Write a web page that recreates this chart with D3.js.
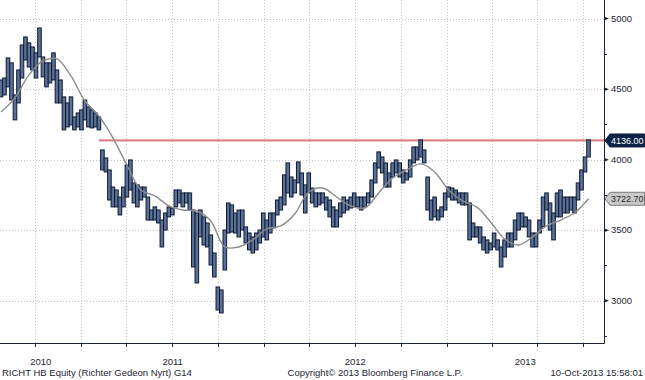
<!DOCTYPE html>
<html><head><meta charset="utf-8">
<script src="https://cdn.jsdelivr.net/npm/d3@7"></script>
<style>body{margin:0;background:#fff}svg{display:block}text{font-family:"Liberation Sans",Arial,sans-serif}</style>
</head><body>
<svg id="c" width="645" height="380"></svg>
<script>
// ---- data ----
const firstWeek = "2010-07-24";          // week of first bar
const weeklyHigh = [4565,4579,4721,4686,4459,4636,4813,4870,4828,4799,
4757,4934,4728,4686,4686,4757,4636,4565,4445,4402,
4445,4303,4331,4353,4423,4374,4353,4331,4303,4069,
4012,3927,3806,3785,3735,3806,3962,3998,3835,3821,
3806,3806,3735,3643,3665,3643,3572,3622,3665,3657,
3785,3785,3764,3764,3764,3643,3622,3643,3594,3551,
3466,3338,3097,3076,3501,3693,3679,3622,3643,3643,
3523,3480,3452,3480,3501,3622,3572,3622,3622,3714,
3735,3892,3977,3877,3856,3984,3906,3821,3906,3799,
3764,3764,3764,3735,3714,3665,3643,3693,3735,3714,
3735,3764,3735,3735,3735,3764,3856,3977,4055,4019,
3977,3906,3977,3998,3977,3927,3906,3998,4090,4090,
4140,4069,3877,3714,3735,3643,3665,3764,3806,3799,
3785,3764,3764,3764,3693,3551,3523,3523,3452,3431,
3409,3480,3431,3381,3431,3480,3480,3572,3622,3622,
3594,3572,3480,3480,3572,3735,3764,3693,3622,3764,
3785,3735,3735,3735,3735,3835,3927,4019,4140];
const weeklyLow = [4445,4459,4516,4423,4282,4402,4579,4707,4657,4636,
4579,4728,4587,4516,4544,4565,4402,4402,4211,4232,
4246,4211,4232,4211,4282,4232,4225,4232,4211,3927,
3913,3714,3665,3665,3608,3665,3735,3785,3693,3665,
3714,3735,3572,3572,3572,3551,3381,3501,3594,3608,
3665,3693,3665,3693,3643,3239,3126,3452,3395,3381,
3253,3168,2934,2913,3218,3480,3487,3480,3452,3501,
3409,3360,3338,3360,3409,3452,3431,3480,3516,3608,
3643,3679,3764,3735,3764,3835,3750,3622,3764,3693,
3665,3679,3693,3643,3594,3523,3523,3594,3622,3643,
3657,3665,3665,3643,3665,3693,3735,3835,3941,3906,
3806,3806,3877,3906,3877,3835,3856,3877,3977,3998,
4019,3977,3643,3572,3594,3572,3594,3643,3735,3714,
3714,3693,3679,3679,3431,3452,3452,3409,3360,3338,
3360,3381,3360,3239,3310,3381,3381,3431,3501,3523,
3523,3452,3381,3381,3480,3523,3643,3501,3431,3594,
3594,3622,3622,3643,3622,3714,3785,3913,4019];
const movingAvg = [4338,4438,4601,4700,4714,4594,4416,4310,4154,3962,
3785,3743,3672,3643,3636,3565,3381,3381,3431,3509,
3530,3615,3771,3799,3735,3672,3657,3764,3870,3927,
3970,3913,3785,3707,3665,3558,3438,3395,3452,3530,
3572,3622,3722.7];                         // one value every 4 weeks
const maStepWeeks = 4;
const lastPrice = 4136.00;
const lastMA = 3722.70;
const refLevel = 4136;
const refStart = "2011-02-05";
const xDomain = ["2010-07-22", "2013-11-12"];
const yDomain = [2700, 5132];
const yMajorTicks = [3000, 3500, 4000, 4500, 5000];
const yMinorTicks = [2750, 3250, 3750, 4250, 4750];
const yearLabels = ["2010", "2011", "2012", "2013"];
const footerLeft = "RICHT HB Equity (Richter Gedeon Nyrt) G14";
const footerMid = "Copyright\u00A9 2013 Bloomberg Finance L.P.";
const footerRight = "10-Oct-2013 15:58:01";

// ---- chart ----
const svg = d3.select("#c");
const W = 604, H = 343;
const parse = d3.timeParse("%Y-%m-%d");
const x = d3.scaleTime().domain(xDomain.map(parse)).range([0, W]);
const y = d3.scaleLinear().domain(yDomain).range([H, 0]);

const w0 = parse(firstWeek);
const bars = weeklyHigh.map((h, i) => ({date: d3.timeDay.offset(w0, 7 * i), high: h, low: weeklyLow[i]}));
const ma = movingAvg.map((v, i) => ({date: d3.timeDay.offset(w0, 7 * maStepWeeks * i), v}));

const qTicks = d3.timeMonth.every(3).range(x.domain()[0], x.domain()[1]);

// grid
const grid = svg.append("g").attr("stroke", "#c4c4c4").attr("stroke-dasharray", "1,2").attr("shape-rendering", "crispEdges");
grid.selectAll(".v").data(qTicks).join("line")
  .attr("x1", d => Math.round(x(d)) + 0.5).attr("x2", d => Math.round(x(d)) + 0.5)
  .attr("y1", 0).attr("y2", H);
grid.selectAll(".h").data(yMajorTicks).join("line")
  .attr("x1", 0).attr("x2", W)
  .attr("y1", d => Math.round(y(d)) + 0.5).attr("y2", d => Math.round(y(d)) + 0.5);

// reference line
svg.append("line")
  .attr("x1", x(parse(refStart))).attr("x2", W)
  .attr("y1", y(refLevel)).attr("y2", y(refLevel))
  .attr("stroke", "#dc8585").attr("stroke-width", 2.2);

// price bars
svg.append("g").selectAll("rect").data(bars).join("rect")
  .attr("x", d => x(d.date) - 1.8)
  .attr("width", 3.6)
  .attr("y", d => y(d.high))
  .attr("height", d => y(d.low) - y(d.high))
  .attr("fill", "#5b7093").attr("stroke", "#0c1a36").attr("stroke-width", 1);

// moving average
svg.append("path").datum(ma)
  .attr("d", d3.line().x(d => x(d.date)).y(d => y(d.v)).curve(d3.curveCatmullRom))
  .attr("fill", "none").attr("stroke", "#8c8c8c").attr("stroke-width", 1.4);

// axes lines
const axisCol = "#1b2535";
svg.append("line").attr("x1", 0).attr("x2", W + 0.5).attr("y1", H + 0.5).attr("y2", H + 0.5).attr("stroke", axisCol);
svg.append("line").attr("x1", W + 0.5).attr("x2", W + 0.5).attr("y1", 0).attr("y2", H + 0.5).attr("stroke", axisCol);

// bottom ticks
svg.append("g").selectAll("line").data(qTicks).join("line")
  .attr("x1", d => Math.round(x(d)) + 0.5).attr("x2", d => Math.round(x(d)) + 0.5)
  .attr("y1", H).attr("y2", H + 4).attr("stroke", axisCol);

// year labels centred in each year's visible span
svg.append("g").selectAll("text").data(yearLabels).join("text")
  .attr("x", d => {
    const a = Math.max(+parse(d + "-01-01"), +x.domain()[0]);
    const b = Math.min(+parse((+d + 1) + "-01-01"), +x.domain()[1]);
    return (x(new Date(a)) + x(new Date(b))) / 2;
  })
  .attr("y", 365).attr("text-anchor", "middle").attr("font-size", 9.5).attr("fill", "#1e2533")
  .text(d => d);

// right axis ticks & labels
const ry = svg.append("g");
ry.selectAll("path.maj").data(yMajorTicks).join("path")
  .attr("d", d => { const yy = y(d); return `M${W},${yy - 2}L${W + 5},${yy}L${W},${yy + 2}Z`; })
  .attr("fill", axisCol);
ry.selectAll("line.min").data(yMinorTicks).join("line")
  .attr("x1", W).attr("x2", W + 3).attr("y1", d => Math.round(y(d)) + 0.5).attr("y2", d => Math.round(y(d)) + 0.5)
  .attr("stroke", axisCol);
ry.selectAll("text").data(yMajorTicks).join("text")
  .attr("x", W + 7).attr("y", d => y(d) + 3.3).attr("font-size", 9.5).attr("fill", "#1e2533")
  .text(d => d);

// value tags
function tag(v, fill, stroke, txtCol, label) {
  const yy = y(v);
  svg.append("path")
    .attr("d", `M${W + 1},${yy}L${W + 6},${yy - 6.5}L644.5,${yy - 6.5}L644.5,${yy + 6.5}L${W + 6},${yy + 6.5}Z`)
    .attr("fill", fill).attr("stroke", stroke);
  svg.append("text").attr("x", W + 7).attr("y", yy + 3.2).attr("font-size", 9).attr("fill", txtCol).text(label);
}
tag(lastPrice, "#0e2446", "#0e2446", "#ffffff", d3.format(".2f")(lastPrice));
tag(lastMA, "#c9c9c9", "#7a7a7a", "#2a2a2a", d3.format(".2f")(lastMA));

// footer
svg.append("text").attr("x", 2).attr("y", 376).attr("font-size", 9.5).attr("fill", "#1e2533").text(footerLeft);
svg.append("text").attr("x", 375).attr("y", 376).attr("text-anchor", "middle").attr("font-size", 9.5).attr("fill", "#1e2533").text(footerMid);
svg.append("text").attr("x", 643).attr("y", 376).attr("text-anchor", "end").attr("font-size", 9.5).attr("fill", "#1e2533").text(footerRight);
</script>
</body></html>
